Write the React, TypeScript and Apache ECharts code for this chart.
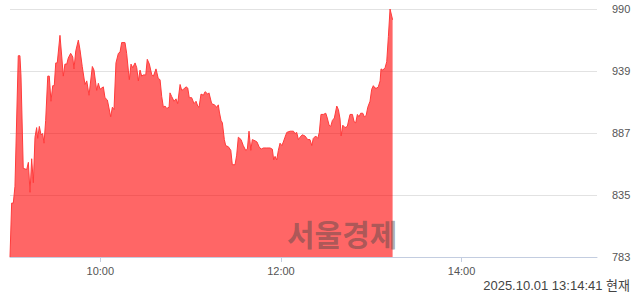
import React, { useEffect, useRef } from "react";
import * as echarts from "echarts";

// minutes since 09:00
const minutes = [
  0, 1.1, 2.2, 3.3, 5.5, 6.6, 7.3, 8.8, 11.1, 12.2, 13.3, 14.4, 15.5, 16.6, 17.7, 18.4, 19.5, 20.6, 21.7, 22.6,
  23.7, 25.1, 26.1, 27.2, 28.4, 29.4, 30.4, 31.4, 33.2, 34.4, 35.4, 36.5, 37.7, 38.7, 40.3, 41.7, 42.5, 43.7, 45.4, 46.5,
  48.0, 49.8, 51.0, 52.5, 54.7, 55.8, 57.6, 58.7, 59.8, 62.0, 63.1, 64.7, 66.9, 68.0, 69.1, 70.4, 72.0, 73.1, 74.2, 75.8,
  76.4, 77.5, 78.6, 79.3, 80.4, 81.5, 83.1, 84.2, 85.3, 86.4, 87.5, 88.6, 90.2, 91.2, 92.6, 94.2, 95.3, 97.0, 98.5, 99.7,
  100.8, 101.9, 103.0, 104.1, 105.7, 106.3, 107.4, 109.0, 110.3, 111.4, 113.0, 114.1, 115.2, 117.0, 118.1, 119.1, 120.7, 122.3, 123.6, 124.7,
  125.6, 126.9, 128.5, 129.6, 131.4, 132.2, 134.0, 135.8, 137.4, 138.4, 139.1, 140.2, 141.1, 142.4, 143.3, 145.1, 146.7, 147.7, 149.5, 150.6,
  151.7, 153.5, 155.0, 156.6, 157.7, 158.8, 160.0, 161.0, 162.8, 164.1, 165.5, 166.8, 168.3, 170.6, 172.8, 174.3, 175.2, 176.1, 177.2, 178.3,
  179.4, 180.6, 181.6, 182.7, 183.9, 186.1, 188.3, 189.4, 190.5, 191.6, 192.7, 194.2, 196.0, 197.8, 199.3, 200.5, 201.5, 203.1, 204.5, 205.5,
  206.6, 208.2, 209.8, 210.8, 212.0, 213.1, 214.2, 215.5, 217.1, 218.2, 219.3, 220.0, 221.1, 222.6, 224.1, 225.9, 227.5, 228.6, 229.7, 230.8,
  231.9, 233.0, 234.4, 235.4, 236.6, 237.7, 239.2, 240.3, 241.4, 242.5, 243.7, 244.7, 245.9, 246.5, 247.7, 249.2, 250.3, 251.4, 252.5, 254.2,
];

const prices = [
  783, 828, 828, 842, 951, 951, 934, 857, 856, 862, 837, 865, 845, 883, 891, 882, 892, 885, 886, 878,
  897, 934, 934, 913, 926, 926, 945, 945, 968, 950, 934, 944, 944, 949, 953, 950, 940, 955, 964, 956,
  942, 927, 930, 918, 942, 939, 922, 928, 923, 925, 916, 914, 900, 908, 906, 945, 953, 954, 962, 962,
  962, 953, 939, 931, 944, 941, 945, 941, 930, 939, 934, 935, 935, 948, 944, 935, 934, 940, 932, 931,
  917, 908, 909, 907, 908, 920, 917, 913, 915, 911, 927, 922, 923, 925, 924, 916, 916, 911, 913, 909,
  908, 919, 918, 921, 919, 920, 911, 910, 908, 910, 904, 897, 895, 881, 876, 875, 872, 860, 860, 868,
  883, 881, 876, 872, 873, 888, 872, 881, 880, 879, 875, 873, 874, 874, 874, 873, 864, 867, 864, 872,
  878, 876, 879, 883, 887, 888, 888, 886, 887, 881, 883, 885, 884, 881, 881, 876, 882, 884, 882, 887,
  902, 902, 903, 899, 893, 892, 897, 899, 909, 906, 898, 884, 893, 891, 892, 902, 902, 896, 895, 902,
  900, 903, 903, 900, 901, 908, 913, 923, 926, 924, 924, 925, 930, 940, 939, 941, 946, 967, 990, 981,
];

const yTickLabels = ["783", "835", "887", "939", "990"];
const xTickMinutes = [60, 180, 300];
const yMin = 783;
const yMax = 990;
const xMax = 390;
const watermark = "서울경제";
const footer = "2025.10.01 13:14:41 현재";

function fmtTime(m: number) {
  const h = 9 + Math.floor(m / 60);
  const mm = Math.round(m % 60);
  return `${h}:${mm < 10 ? "0" + mm : mm}`;
}

export default function App() {
  const ref = useRef<HTMLDivElement>(null);
  useEffect(() => {
    if (!ref.current) return;
    const chart = echarts.init(ref.current, null, { renderer: "svg" });
    const data = minutes.map((m, i) => [m, prices[i]]);
    chart.setOption({
      animation: false,
      grid: { left: 10, right: 43, top: 9, bottom: 37, containLabel: false },
      xAxis: {
        type: "value",
        min: 0,
        max: xMax,
        splitLine: { show: false },
        axisLine: { show: true, lineStyle: { color: "#c3cde0", width: 1 } },
        axisTick: {
          show: true,
          customValues: xTickMinutes,
          length: 5,
          lineStyle: { color: "#c3cde0" },
        },
        axisLabel: {
          customValues: xTickMinutes,
          formatter: (v: number) => fmtTime(v),
          color: "#555",
          fontSize: 11,
          fontFamily: "Liberation Sans, Arial, sans-serif",
          margin: 8,
        },
      },
      yAxis: {
        type: "value",
        position: "right",
        min: yMin,
        max: yMax,
        interval: (yMax - yMin) / 4,
        axisLine: { show: false },
        axisTick: { show: false },
        splitLine: { show: true, lineStyle: { color: "#e2e2e2", width: 1 } },
        axisLabel: {
          formatter: (_v: number, i: number) => yTickLabels[i] ?? "",
          color: "#555",
          fontSize: 11,
          fontFamily: "Liberation Sans, Arial, sans-serif",
          margin: 15,
        },
      },
      series: [
        {
          type: "line",
          data,
          symbol: "none",
          lineStyle: { color: "#ff3b3b", width: 1 },
          areaStyle: { color: "#ff0000", opacity: 0.6, origin: "start" },
          z: 1,
        },
      ],
      graphic: [
        {
          type: "text",
          left: 287,
          top: 218,
          z: 100,
          style: {
            text: watermark,
            font: "bold 30px 'Noto Sans CJK KR', sans-serif",
            fill: "rgba(70,70,70,0.45)",
          },
        },
        {
          type: "text",
          right: 10,
          top: 279,
          z: 100,
          style: {
            text: footer,
            font: "13px 'Liberation Sans', 'Noto Sans CJK KR', sans-serif",
            fill: "#444",
          },
        },
      ],
    });
    return () => chart.dispose();
  }, []);
  return (
    <div
      ref={ref}
      style={{ position: "fixed", left: 0, top: 0, width: 640, height: 294, background: "#fff" }}
    />
  );
}
